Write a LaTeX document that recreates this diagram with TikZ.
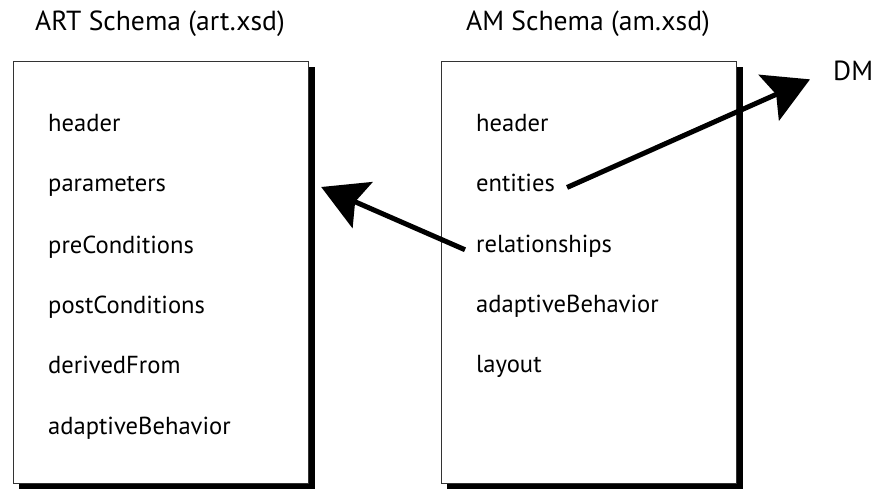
\documentclass[tikz,border=0pt]{standalone}
\usepackage{fontspec}
\setmainfont{PT Sans}
\usetikzlibrary{arrows.meta}
\tikzset{
  schemabox/.style={draw=black!80, line width=1.2pt, fill=white, minimum width=295pt, minimum height=422pt, inner sep=0pt},
  boxshadow/.style={fill=black, draw=none, minimum width=296pt, minimum height=422pt, inner sep=0pt},
  item/.style={anchor=base west, inner sep=0pt, font=\fontsize{24.6}{28}\selectfont},
  title/.style={anchor=base, inner sep=0pt, font=\fontsize{27.6}{32}\selectfont},
  bigarrow/.style={line width=5pt, -{Stealth[length=45pt, width=50pt, inset=8pt]}},
}
\begin{document}
\begin{tikzpicture}[x=1pt, y=-1pt]
\useasboundingbox (0,0) rectangle (878,489);
% shadows
\node[boxshadow, anchor=north west] (artshadow) at (19,67) {};
\node[boxshadow, anchor=north west] (amshadow) at (447,67) {};
% boxes
\node[schemabox, anchor=north west] (artbox) at (13,61) {};
\node[schemabox, anchor=north west] (ambox) at (441,61) {};
% titles
\node[title] (arttitle) at (160,31) {ART Schema (art.xsd)};
\node[title] (amtitle) at (588,31) {AM Schema (am.xsd)};
\node[title, anchor=base west] (dm) at (833,81) {DM};
% ART items
\node[item] (a1) at (48,132) {header};
\node[item] (a2) at (48,192) {parameters};
\node[item] (a3) at (48,253) {preConditions};
\node[item] (a4) at (48,313) {postConditions};
\node[item] (a5) at (48,373) {derivedFrom};
\node[item] (a6) at (48,434) {adaptiveBehavior};
% AM items
\node[item] (m1) at (476,132) {header};
\node[item] (m2) at (476,192) {entities};
\node[item] (m3) at (476,252) {relationships};
\node[item] (m4) at (476,312) {adaptiveBehavior};
\node[item] (m5) at (476,372) {layout};
% connectors
\draw[bigarrow] ([shift={(12pt,-4pt)}]m2.east) -- ([shift={(-23pt,-8pt)}]dm.west);
\draw[bigarrow] ([shift={(-11pt,-4pt)}]m3.west) -- ([shift={(12pt,-126pt)}]artbox.north east);
\end{tikzpicture}
\end{document}
